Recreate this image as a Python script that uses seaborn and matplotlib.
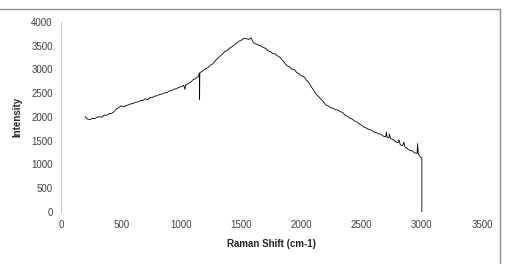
import matplotlib
matplotlib.use("Agg")
import matplotlib.pyplot as plt
from matplotlib.lines import Line2D
import pandas as pd
import seaborn as sns

# Raman spectrum
raman_shift = [
    200, 215, 240, 260, 280, 300, 320, 340, 360, 380, 400, 420, 440, 460, 480,
    500, 520, 540, 560, 580, 600, 620, 640, 660, 680, 700, 720, 740, 760, 780,
    800, 820, 840, 860, 880, 900, 920, 940, 960, 980, 1000, 1020, 1030, 1035,
    1060, 1080, 1100, 1120, 1140, 1150, 1152, 1154, 1170, 1200, 1220, 1240,
    1260, 1280, 1300, 1320, 1340, 1360, 1380, 1400, 1420, 1440, 1460, 1480,
    1500, 1520, 1540, 1560, 1580, 1600, 1620, 1640, 1660, 1680, 1700, 1720,
    1740, 1760, 1780, 1800, 1820, 1840, 1860, 1880, 1900, 1920, 1940, 1960,
    1980, 2000, 2020, 2040, 2060, 2080, 2100, 2120, 2140, 2160, 2180, 2200,
    2220, 2240, 2260, 2280, 2300, 2320, 2340, 2360, 2380, 2400, 2420, 2440,
    2460, 2480, 2500, 2520, 2540, 2560, 2580, 2600, 2620, 2640, 2660, 2680,
    2700, 2705, 2710, 2725, 2730, 2740, 2760, 2780, 2800, 2810, 2820, 2840,
    2850, 2860, 2880, 2900, 2920, 2940, 2960, 2965, 2970, 2980, 2990, 3000,
    3000,
]
intensity = [
    2010, 1960, 1945, 1970, 1965, 1995, 2005, 1995, 2040, 2035, 2070, 2075,
    2110, 2170, 2195, 2235, 2210, 2240, 2255, 2275, 2285, 2310, 2315, 2345,
    2345, 2385, 2365, 2405, 2410, 2440, 2445, 2475, 2480, 2505, 2515, 2545,
    2555, 2585, 2595, 2625, 2635, 2665, 2580, 2670, 2705, 2735, 2790, 2805,
    2850, 2920, 2370, 2930, 2955, 3015, 3035, 3085, 3115, 3175, 3225, 3275,
    3315, 3375, 3395, 3445, 3475, 3515, 3555, 3595, 3615, 3655, 3650, 3630,
    3665, 3560, 3535, 3515, 3495, 3465, 3445, 3395, 3375, 3335, 3325, 3285,
    3255, 3195, 3135, 3075, 3055, 3005, 2995, 2935, 2905, 2865, 2845, 2775,
    2725, 2635, 2565, 2475, 2435, 2375, 2325, 2255, 2235, 2195, 2185, 2155,
    2145, 2115, 2095, 2045, 2015, 1975, 1955, 1915, 1895, 1855, 1825, 1785,
    1765, 1735, 1725, 1685, 1675, 1645, 1635, 1595, 1585, 1680, 1575, 1560,
    1640, 1545, 1525, 1485, 1455, 1520, 1415, 1395, 1470, 1365, 1335, 1295,
    1285, 1245, 1235, 1440, 1215, 1185, 1150, 1140, 0,
]

x_ticks = [0, 500, 1000, 1500, 2000, 2500, 3000, 3500]
y_ticks = [0, 500, 1000, 1500, 2000, 2500, 3000, 3500, 4000]

sns.set_style("white")
plt.rcParams["font.family"] = ["Liberation Sans", "DejaVu Sans"]

df = pd.DataFrame({"Raman Shift (cm-1)": raman_shift, "Intensity": intensity})

fig = plt.figure(figsize=(5.06, 2.64), dpi=100)
ax = fig.add_axes([0.1206, 0.197, 0.832, 0.72])

sns.lineplot(data=df, x="Raman Shift (cm-1)", y="Intensity", ax=ax,
             color="black", lw=0.6, sort=False, estimator=None)

ax.set_xlim(0, 3500)
ax.set_ylim(0, 4000)
ax.set_xticks(x_ticks)
ax.set_yticks(y_ticks)
ax.tick_params(labelsize=7, labelcolor="#404040", length=0, pad=6)

for side in ["top", "right", "bottom"]:
    ax.spines[side].set_visible(False)
ax.spines["left"].set_color("#c8c8c8")
ax.spines["left"].set_linewidth(0.8)

ax.set_xlabel("Raman Shift (cm-1)", fontsize=7, fontweight="bold", labelpad=6)
ax.set_ylabel("Intensity", fontsize=7, fontweight="bold", labelpad=6)

# chart-area border (top and right edges visible in the crop)
fig.add_artist(Line2D([0, 0.989], [0.966, 0.966], transform=fig.transFigure,
                      color="#8c8c8c", lw=1))
fig.add_artist(Line2D([0.989, 0.989], [0, 0.966], transform=fig.transFigure,
                      color="#8c8c8c", lw=1))

fig.savefig("out.png", dpi=100)
